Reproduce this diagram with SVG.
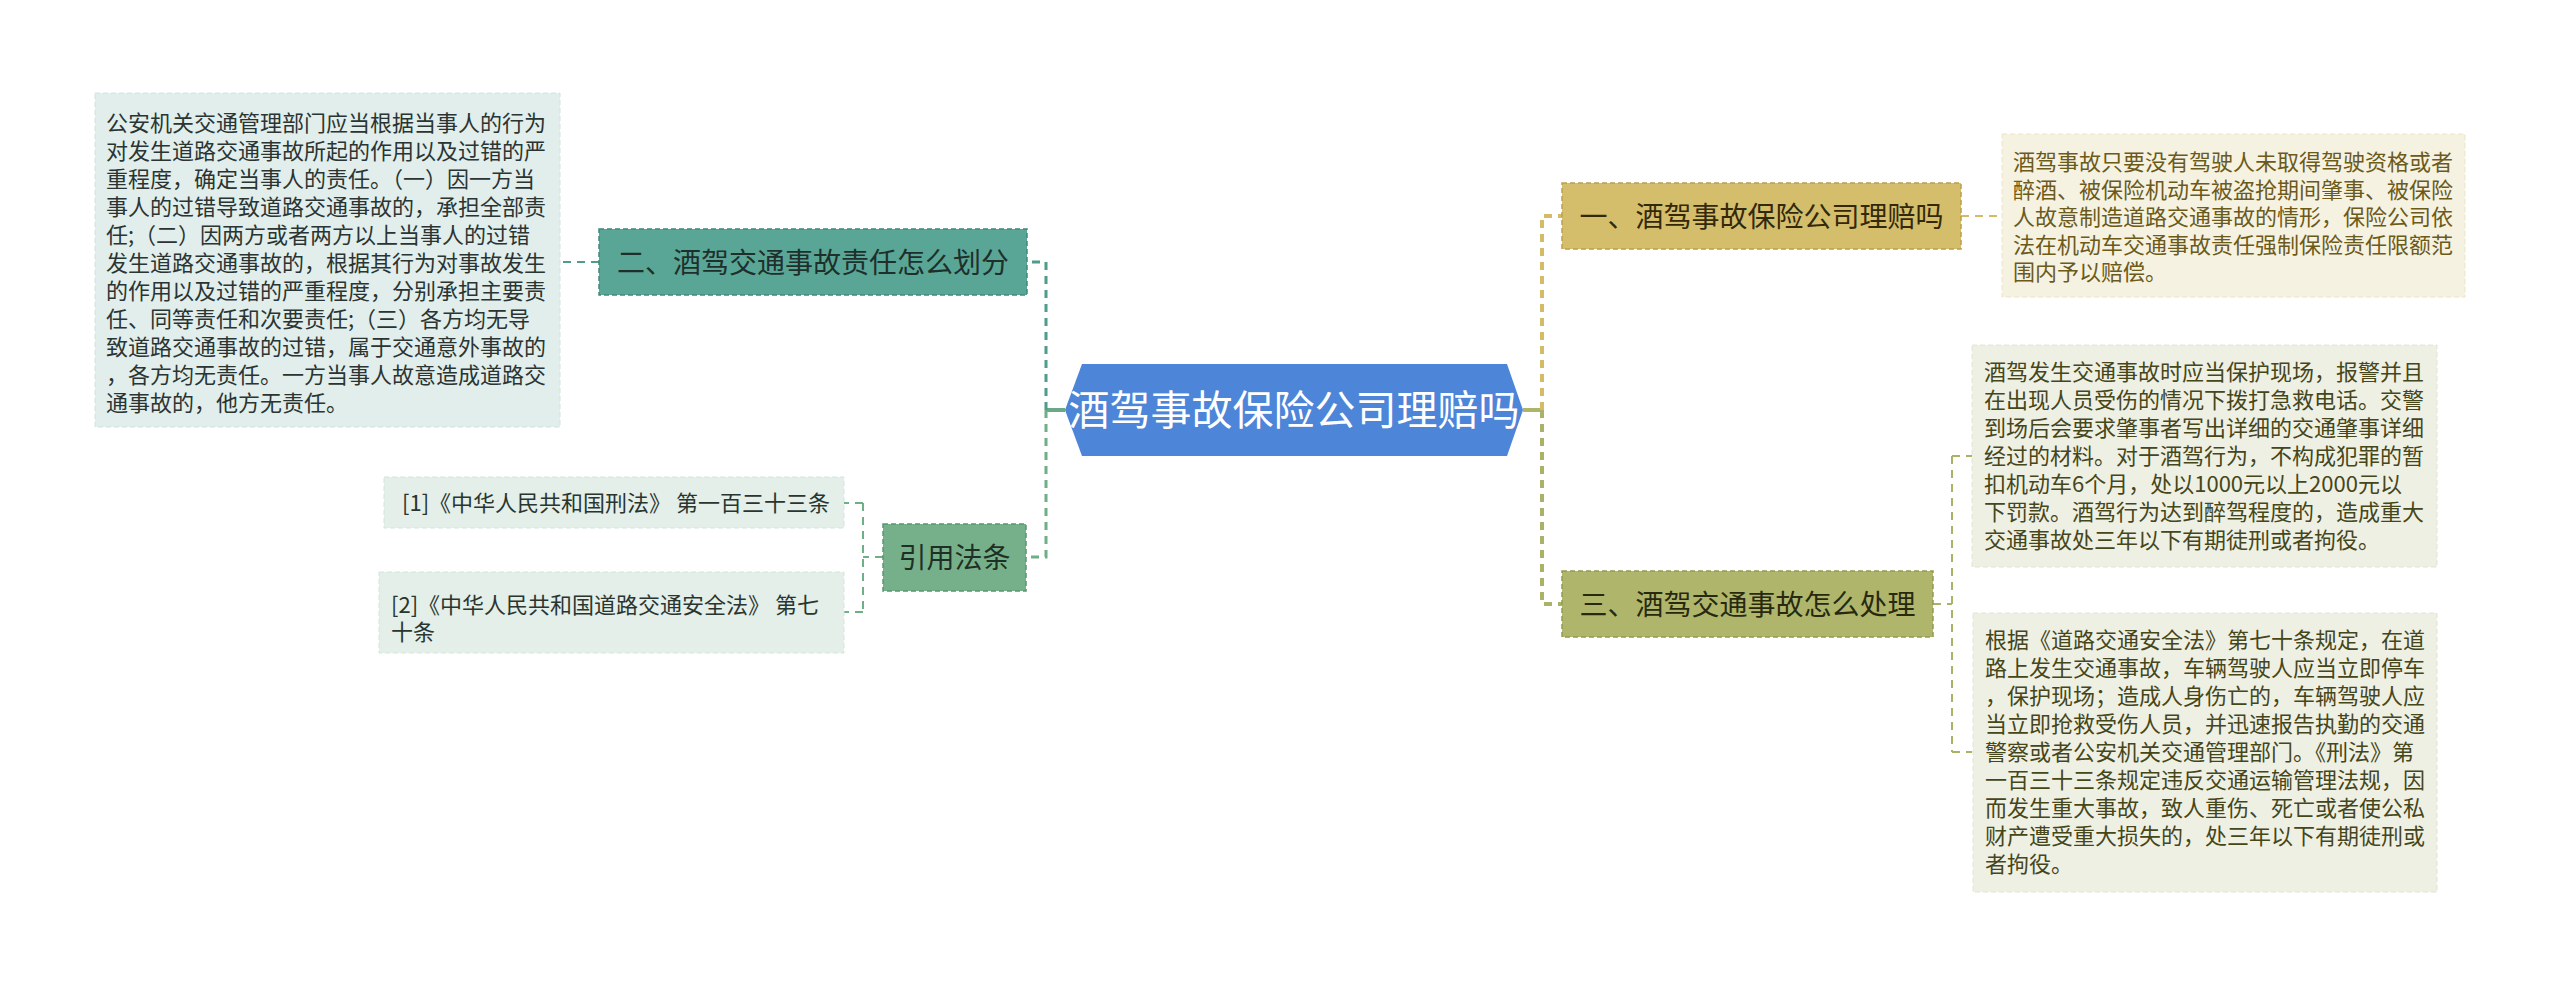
<svg xmlns="http://www.w3.org/2000/svg" width="2560" height="986" viewBox="0 0 2560 986">
<style>
text{font-family:"Noto Sans CJK SC","Microsoft YaHei",sans-serif;}
.t22{font-size:22px;}
.t28{font-size:28px;}
.line{fill:none;stroke-dasharray:8 6;}
.teal{stroke:#4f9c8c;}
.green{stroke:#6fae86;}
.gold{stroke:#d3bb68;}
.olive{stroke:#a9b266;}
</style>
<rect width="2560" height="986" fill="#ffffff"/>
<g id="connectors">
  <path d="M1065 410 H1046" stroke="#6aa88a" stroke-width="4" fill="none"/>
  <path class="line teal" d="M1046 410 V262 H1027" stroke-width="3"/>
  <path class="line green" d="M1046 410 V557 H1026" stroke-width="3"/>
  <path class="line teal" d="M599 262 H560" stroke-width="2"/>
  <path class="line green" d="M883 557 H863 M863 503 V612 M863 503 H844 M863 612 H844" stroke-width="2"/>
  <path d="M1523 410 H1542" stroke="#b0b36a" stroke-width="4" fill="none"/>
  <path class="line gold" d="M1542 410 V216 H1562" stroke-width="4"/>
  <path class="line olive" d="M1542 410 V604 H1562" stroke-width="4"/>
  <path class="line gold" d="M1961 216 H2002" stroke-width="2"/>
  <path class="line olive" d="M1933 604 H1952 M1952 456 V752 M1952 456 H1972 M1952 752 H1972" stroke-width="2"/>
</g>
<g id="root">
  <polygon points="1065,410 1082,364 1507,364 1523,410 1507,456 1082,456" fill="#4d85d8"/>
  <text x="1294" y="425" font-size="41" fill="#ffffff" text-anchor="middle">酒驾事故保险公司理赔吗</text>
</g>
<g id="node-2">
  <rect x="599" y="229" width="428" height="66" fill="#59a696" stroke="#3f8a7a" stroke-width="1.5" stroke-dasharray="5 3"/>
  <text class="t28" x="813" y="273" fill="#1f2f2b" text-anchor="middle">二、酒驾交通事故责任怎么划分</text>
</g>
<g id="node-2-detail">
  <rect x="95" y="93" width="465" height="334" fill="#e2eeeb" stroke="#cfe2de" stroke-width="1" stroke-dasharray="5 3"/>
  <text class="t22" fill="#2a3533">
    <tspan x="106" y="131">公安机关交通管理部门应当根据当事人的行为</tspan>
    <tspan x="106" y="159">对发生道路交通事故所起的作用以及过错的严</tspan>
    <tspan x="106" y="187">重程度，确定当事人的责任。（一）因一方当</tspan>
    <tspan x="106" y="215">事人的过错导致道路交通事故的，承担全部责</tspan>
    <tspan x="106" y="243">任;（二）因两方或者两方以上当事人的过错</tspan>
    <tspan x="106" y="271">发生道路交通事故的，根据其行为对事故发生</tspan>
    <tspan x="106" y="299">的作用以及过错的严重程度，分别承担主要责</tspan>
    <tspan x="106" y="327">任、同等责任和次要责任;（三）各方均无导</tspan>
    <tspan x="106" y="355">致道路交通事故的过错，属于交通意外事故的</tspan>
    <tspan x="106" y="383">，各方均无责任。一方当事人故意造成道路交</tspan>
    <tspan x="106" y="411">通事故的，他方无责任。</tspan>
  </text>
</g>
<g id="node-laws">
  <rect x="883" y="524" width="143" height="67" fill="#76b08a" stroke="#5a9770" stroke-width="1.5" stroke-dasharray="5 3"/>
  <text class="t28" x="954.5" y="568" fill="#1f2f25" text-anchor="middle">引用法条</text>
</g>
<g id="law-1">
  <rect x="384" y="477" width="460" height="51" fill="#e3efe8" stroke="#d3e6da" stroke-width="1" stroke-dasharray="5 3"/>
  <text class="t22" x="402" y="511" fill="#2a3530">[1]《中华人民共和国刑法》 第一百三十三条</text>
</g>
<g id="law-2">
  <rect x="379" y="572" width="465" height="81" fill="#e3efe8" stroke="#d3e6da" stroke-width="1" stroke-dasharray="5 3"/>
  <text class="t22" fill="#2a3530">
    <tspan x="391" y="613">[2]《中华人民共和国道路交通安全法》 第七</tspan>
    <tspan x="391" y="640">十条</tspan>
  </text>
</g>
<g id="node-1">
  <rect x="1562" y="183" width="399" height="66" fill="#d4bd6b" stroke="#b9a050" stroke-width="1.5" stroke-dasharray="5 3"/>
  <text class="t28" x="1761.5" y="227" fill="#33290a" text-anchor="middle">一、酒驾事故保险公司理赔吗</text>
</g>
<g id="node-1-detail">
  <rect x="2002" y="134" width="463" height="163" fill="#f6f2e1" stroke="#ebe4c8" stroke-width="1" stroke-dasharray="5 3"/>
  <text class="t22" fill="#6b5a1a">
    <tspan x="2013" y="170">酒驾事故只要没有驾驶人未取得驾驶资格或者</tspan>
    <tspan x="2013" y="197.5">醉酒、被保险机动车被盗抢期间肇事、被保险</tspan>
    <tspan x="2013" y="225">人故意制造道路交通事故的情形，保险公司依</tspan>
    <tspan x="2013" y="252.5">法在机动车交通事故责任强制保险责任限额范</tspan>
    <tspan x="2013" y="280">围内予以赔偿。</tspan>
  </text>
</g>
<g id="node-3">
  <rect x="1562" y="571" width="371" height="66" fill="#afb66b" stroke="#929a50" stroke-width="1.5" stroke-dasharray="5 3"/>
  <text class="t28" x="1747.5" y="615" fill="#282a10" text-anchor="middle">三、酒驾交通事故怎么处理</text>
</g>
<g id="node-3-detail-1">
  <rect x="1972" y="345" width="465" height="222" fill="#eff0e4" stroke="#e2e4d2" stroke-width="1" stroke-dasharray="5 3"/>
  <text class="t22" fill="#45461a">
    <tspan x="1984" y="380">酒驾发生交通事故时应当保护现场，报警并且</tspan>
    <tspan x="1984" y="408">在出现人员受伤的情况下拨打急救电话。交警</tspan>
    <tspan x="1984" y="436">到场后会要求肇事者写出详细的交通肇事详细</tspan>
    <tspan x="1984" y="464">经过的材料。对于酒驾行为，不构成犯罪的暂</tspan>
    <tspan x="1984" y="492">扣机动车6个月，处以1000元以上2000元以</tspan>
    <tspan x="1984" y="520">下罚款。酒驾行为达到醉驾程度的，造成重大</tspan>
    <tspan x="1984" y="548">交通事故处三年以下有期徒刑或者拘役。</tspan>
  </text>
</g>
<g id="node-3-detail-2">
  <rect x="1973" y="613" width="464" height="279" fill="#eff0e4" stroke="#e2e4d2" stroke-width="1" stroke-dasharray="5 3"/>
  <text class="t22" fill="#45461a">
    <tspan x="1985" y="648">根据《道路交通安全法》第七十条规定，在道</tspan>
    <tspan x="1985" y="676">路上发生交通事故，车辆驾驶人应当立即停车</tspan>
    <tspan x="1985" y="704">，保护现场；造成人身伤亡的，车辆驾驶人应</tspan>
    <tspan x="1985" y="732">当立即抢救受伤人员，并迅速报告执勤的交通</tspan>
    <tspan x="1985" y="760">警察或者公安机关交通管理部门。《刑法》第</tspan>
    <tspan x="1985" y="788">一百三十三条规定违反交通运输管理法规，因</tspan>
    <tspan x="1985" y="816">而发生重大事故，致人重伤、死亡或者使公私</tspan>
    <tspan x="1985" y="844">财产遭受重大损失的，处三年以下有期徒刑或</tspan>
    <tspan x="1985" y="872">者拘役。</tspan>
  </text>
</g>
</svg>
